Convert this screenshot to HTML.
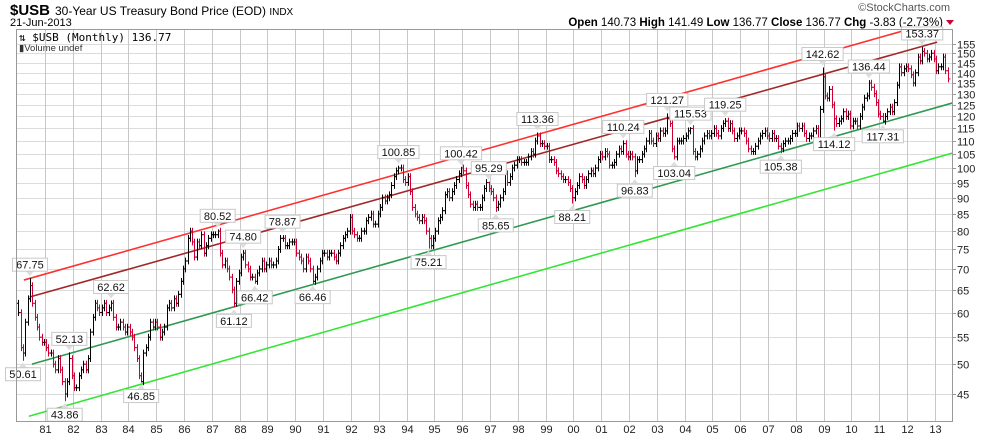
<!DOCTYPE html>
<html><head><meta charset="utf-8">
<style>
body{margin:0;background:#fff;width:990px;height:438px;overflow:hidden;font-family:"Liberation Sans",sans-serif}
svg{display:block}
</style></head>
<body>
<svg id="chart" width="990" height="438" viewBox="0 0 990 438" font-family="Liberation Sans, sans-serif">
  <text x="10" y="15" font-size="15" font-weight="bold">$USB</text>
  <text x="55" y="15" font-size="12">30-Year US Treasury Bond Price (EOD) <tspan font-size="10">INDX</tspan></text>
  <text x="10" y="26" font-size="11">21-Jun-2013</text>
  <text x="950" y="11" font-size="11" fill="#555" text-anchor="end">©StockCharts.com</text>
  <text x="943" y="26" font-size="11.5" text-anchor="end"><tspan font-weight="bold">Open</tspan> 140.73  <tspan font-weight="bold">High</tspan> 141.49  <tspan font-weight="bold">Low</tspan> 136.77  <tspan font-weight="bold">Close</tspan> 136.77  <tspan font-weight="bold">Chg</tspan> -3.83 (-2.73%)</text>
  <polygon points="946,20 954,20 950,25" fill="#cc0033"/>
  <g id="grid"></g>
  <g id="axes"></g>
  <g id="trend"></g>
  <g id="bars"></g>
  <g id="labels"></g>
  <rect x="16.5" y="29.5" width="936" height="392" fill="none" stroke="#999"/>
  <text x="19" y="41" font-size="11" font-family="DejaVu Sans Mono, monospace">⇅ $USB (Monthly) 136.77</text>
  <text x="19" y="51" font-size="9.5" fill="#333">▮Volume undef</text>
</svg>
<script>
const closes = [
60,53,52,58,63,66,62,59,57,55,54,54,
53,52,52,50,49,51,49,47,45,47,51,48,
46,46,48,49,50,49,51,56,59,62,61,60,
61,62,60,61,62,59,57,57,58,57,56,57,
56,55,53,51,48,47,52,53,55,58,57,58,
57,55,56,57,61,62,61,63,62,64,67,70,
72,78,80,77,73,77,76,79,74,76,78,79,
79,79,80,74,71,72,70,68,65,62,67,69,
73,74,71,70,68,68,67,69,70,72,70,71,
72,71,71,72,75,78,78,76,76,77,77,77,
74,73,72,70,73,72,70,67,68,70,72,74,
74,73,74,74,73,72,74,76,78,79,80,84,
80,79,78,78,80,80,83,84,85,82,82,85,
87,90,89,90,91,94,97,99,100,100,96,95,
97,92,87,85,84,83,84,83,80,78,76,78,
80,83,84,86,91,92,90,92,94,96,98,100,
99,94,91,88,87,88,87,87,90,93,95,93,
92,90,87,88,90,92,98,95,97,100,101,103,
103,102,102,102,104,106,105,110,112,109,109,108,
108,103,103,102,99,98,97,96,96,95,93,90,
92,94,97,96,94,96,98,99,98,100,103,105,
104,106,105,101,101,102,105,107,106,109,105,104,
105,104,99,103,103,105,107,110,113,110,109,112,
111,114,113,114,119,117,107,104,110,110,110,111,
112,114,115,106,104,105,107,110,112,113,112,113,
115,113,112,115,117,118,115,117,114,111,112,114,
114,113,110,107,106,106,108,110,112,113,114,112,
111,113,111,111,108,107,109,110,110,111,113,113,
116,115,116,113,111,112,112,114,115,111,123,138,
129,128,132,125,119,117,118,119,122,120,121,116,
118,118,116,120,124,128,129,135,133,130,126,121,
120,118,120,122,124,122,126,134,143,140,142,143,
142,139,135,140,148,146,151,150,147,148,150,147,
141,143,143,148,141,137
];
const firstOpen = 62;
const pivotIdx  = [2,5,20,22,40,53,86,93,97,102,114,127,164,177,191,203,206,224,239,261,266,280,283,290,305,329,347,352,367,373,390];
const pivotVal  = [50.61,67.75,43.86,52.13,62.62,46.85,80.52,61.12,74.80,66.42,78.87,66.46,100.85,75.21,100.42,95.29,85.65,113.36,88.21,110.24,96.83,121.27,103.04,115.53,119.25,105.38,142.62,114.12,136.44,117.31,153.37];
const pivotSide = ['b','a','b','a','a','b','a','b','a','b','a','b','a','b','a','a','b','a','b','a','b','a','b','a','a','b','a','b','a','b','a'];
const yTicks = [45,50,55,60,65,70,75,80,85,90,95,100,105,110,115,120,125,130,135,140,145,150,155];
const xYears = [81,82,83,84,85,86,87,88,89,90,91,92,93,94,95,96,97,98,99,"00","01","02","03","04","05","06","07","08","09",10,11,12,13];
const trendNames = ['upper-channel-red','mid-channel-darkred','support-darkgreen','lower-channel-green'];
const trendT0 = [1980.24,1980.45,1980.53,1980.42];
const trendV0 = [67.3,63.4,50.0,41.6];
const trendT1 = [2012.11,2013.08,2013.62,2013.62];
const trendV1 = [163.5,156,125.8,105.4];
const trendColor = ['#ff3030','#a02828','#2e9950','#33e633'];

const NS='http://www.w3.org/2000/svg';
const L=16,R=952,T=30,B=421;
function X(t){return 45+27.81*(t-1981);}
function Y(v){return 168-283*Math.log(v/100);}
function mk(tag,attrs,parent){const e=document.createElementNS(NS,tag);for(const k in attrs)e.setAttribute(k,attrs[k]);parent.appendChild(e);return e;}
const gGrid=document.getElementById('grid'),gAxes=document.getElementById('axes'),gTrend=document.getElementById('trend'),gBars=document.getElementById('bars'),gLab=document.getElementById('labels');

yTicks.forEach(v=>{
  const y=Math.round(Y(v))+0.5;
  const ln=mk('line',{x1:L,x2:R,y1:y,y2:y,stroke:'#dcdcdc'},gGrid);
  
  
  const tk=mk('line',{x1:R,x2:R+4,y1:y,y2:y,stroke:'#999'},gAxes);
  
  
  const tx=mk('text',{x:R+5,y:y+4,'font-size':11,fill:'#222'},gAxes);
  tx.textContent=v;
  
  
});
xYears.forEach((yl,i)=>{
  const x=Math.round(X(1981+i))+0.5;
  const ln=mk('line',{x1:x,x2:x,y1:T,y2:B,stroke:'#c8c8c8'},gGrid);
  
  
  const tx=mk('text',{x:x,y:433,'font-size':11,'text-anchor':'middle',fill:'#222'},gAxes);
  tx.textContent=yl;
  
  
});

trendT0.forEach((t0,i)=>{
  const ln=mk('line',{x1:X(t0),y1:Y(trendV0[i]),x2:X(trendT1[i]),y2:Y(trendV1[i]),stroke:trendColor[i],'stroke-width':1.6},gTrend);
  
  
});

const hi=[],lo=[];
closes.forEach((c,i)=>{
  const o=i?closes[i-1]:firstOpen;
  hi[i]=Math.max(o,c)*1.012; lo[i]=Math.min(o,c)*0.988;
});
pivotIdx.forEach((idx,k)=>{ if(pivotSide[k]==='a') hi[idx]=pivotVal[k]; else lo[idx]=pivotVal[k]; });

closes.forEach((c,i)=>{
  const o=i?closes[i-1]:firstOpen;
  const x=Math.round(X(1980+(i+0.5)/12))+0.5;
  const col=(i&&c<closes[i-1])?'#cc0033':'#000';
  const g=mk('g',{stroke:col,'stroke-width':1},gBars);
  
  
  mk('line',{x1:x,x2:x,y1:Y(hi[i]),y2:Y(lo[i])},g);
  mk('line',{x1:x-2,x2:x,y1:Y(o),y2:Y(o)},g);
  mk('line',{x1:x,x2:x+2,y1:Y(c),y2:Y(c)},g);
});

pivotIdx.forEach((idx,k)=>{
  const x=X(1980+(idx+0.5)/12);
  const s=pivotVal[k].toFixed(2);
  const w=s.length*6.2+4,h=13;
  const g=mk('g',{},gLab);
  
  
  let by,tip;
  if(pivotSide[k]==='a'){tip=Y(hi[idx])-2;by=tip-5-h;mk('polygon',{points:`${x-4},${by+h} ${x+4},${by+h} ${x},${tip}`,fill:'#ddd'},g);}
  else{tip=Y(lo[idx])+2;by=tip+5;mk('polygon',{points:`${x-4},${by} ${x+4},${by} ${x},${tip}`,fill:'#ddd'},g);}
  mk('rect',{x:x-w/2,y:by,width:w,height:h,fill:'#fff',stroke:'#c8c8c8'},g);
  const t=mk('text',{x:x,y:by+10.5,'font-size':11,'text-anchor':'middle',fill:'#111'},g);
  t.textContent=s;
});
</script>
</body></html>
